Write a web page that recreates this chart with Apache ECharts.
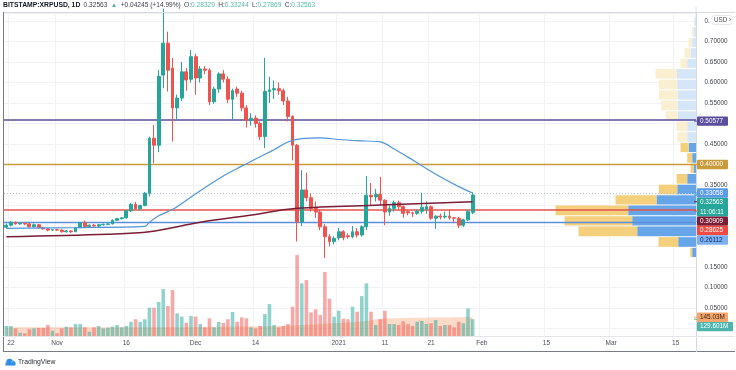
<!DOCTYPE html>
<html><head><meta charset="utf-8">
<script src="https://cdn.jsdelivr.net/npm/echarts@6/dist/echarts.min.js"></script>
<style>html,body{margin:0;padding:0;background:#fff}#c{width:736px;height:370px}</style>
</head><body><div id="c"></div><script>
// ---------- categories ----------
const startDay = Date.UTC(2020, 9, 21);
const categories = [];
for (let i = 0; i < 150; i++) categories.push(new Date(startDay + i * 86400000).toISOString().slice(0, 10));

const tickDates = ['2020-10-22','2020-11-01','2020-11-16','2020-12-01','2020-12-14','2021-01-01','2021-01-11','2021-01-21','2021-02-01','2021-02-15','2021-03-01','2021-03-15'];
const tickTexts = ['22','Nov','16','Dec','14','2021','11','21','Feb','15','Mar','15'];

// ---------- daily candles (Oct 21 2020 .. Jan 30 2021) ----------
const opens = [0.247,0.252,0.259,0.255,0.257,0.255,0.248,0.253,0.246,0.243,0.240,0.241,0.240,0.236,0.238,0.236,0.246,0.258,0.249,0.252,0.250,0.253,0.254,0.255,0.264,0.268,0.270,0.287,0.303,0.292,0.300,0.330,0.464,0.447,0.618,0.696,0.635,0.538,0.562,0.626,0.608,0.663,0.611,0.633,0.630,0.553,0.584,0.621,0.608,0.559,0.584,0.574,0.538,0.508,0.513,0.500,0.468,0.578,0.582,0.585,0.580,0.555,0.517,0.447,0.260,0.338,0.319,0.293,0.284,0.248,0.224,0.212,0.221,0.236,0.226,0.224,0.236,0.228,0.248,0.325,0.321,0.327,0.313,0.284,0.293,0.307,0.297,0.285,0.282,0.281,0.286,0.291,0.297,0.269,0.274,0.272,0.274,0.270,0.269,0.252,0.265,0.28329];
const highs = [0.256,0.262,0.261,0.259,0.259,0.257,0.256,0.255,0.248,0.245,0.243,0.243,0.242,0.240,0.240,0.247,0.260,0.263,0.254,0.255,0.255,0.256,0.257,0.266,0.270,0.272,0.289,0.306,0.309,0.302,0.333,0.468,0.496,0.630,0.780,0.724,0.660,0.570,0.650,0.635,0.679,0.670,0.640,0.640,0.635,0.590,0.625,0.630,0.615,0.585,0.590,0.580,0.545,0.525,0.520,0.505,0.660,0.614,0.605,0.600,0.585,0.565,0.520,0.450,0.386,0.380,0.330,0.310,0.290,0.255,0.230,0.225,0.245,0.240,0.232,0.250,0.245,0.252,0.372,0.355,0.340,0.370,0.315,0.300,0.312,0.312,0.300,0.290,0.285,0.290,0.331,0.310,0.300,0.276,0.280,0.285,0.290,0.272,0.272,0.268,0.290,0.33244];
const lows = [0.244,0.249,0.253,0.253,0.252,0.246,0.246,0.243,0.241,0.237,0.238,0.238,0.234,0.234,0.233,0.235,0.245,0.246,0.247,0.249,0.248,0.251,0.252,0.254,0.262,0.266,0.268,0.284,0.289,0.288,0.298,0.322,0.403,0.430,0.586,0.578,0.456,0.508,0.555,0.580,0.600,0.570,0.600,0.620,0.545,0.548,0.575,0.600,0.550,0.508,0.565,0.530,0.490,0.495,0.490,0.460,0.440,0.550,0.560,0.570,0.545,0.505,0.410,0.212,0.250,0.310,0.285,0.270,0.240,0.172,0.200,0.205,0.215,0.215,0.219,0.220,0.222,0.224,0.240,0.300,0.310,0.300,0.252,0.275,0.285,0.290,0.270,0.276,0.272,0.277,0.280,0.280,0.265,0.243,0.266,0.268,0.265,0.258,0.245,0.248,0.262,0.27869];
const closes = [0.252,0.259,0.255,0.257,0.255,0.248,0.253,0.246,0.243,0.240,0.241,0.240,0.236,0.238,0.236,0.246,0.258,0.249,0.252,0.250,0.253,0.254,0.255,0.264,0.268,0.270,0.287,0.303,0.292,0.300,0.330,0.464,0.447,0.615,0.696,0.630,0.538,0.562,0.626,0.606,0.663,0.611,0.633,0.630,0.553,0.584,0.621,0.608,0.559,0.580,0.574,0.538,0.508,0.513,0.500,0.468,0.578,0.582,0.585,0.580,0.555,0.517,0.447,0.260,0.338,0.319,0.293,0.284,0.248,0.224,0.212,0.220,0.236,0.222,0.224,0.236,0.228,0.248,0.325,0.321,0.327,0.313,0.284,0.293,0.307,0.297,0.281,0.282,0.281,0.286,0.296,0.297,0.269,0.274,0.272,0.274,0.270,0.269,0.252,0.265,0.285,0.32563];
// volume, millions
const volumes = [77,77,59,25,21,52,59,62,62,85,41,21,59,72,67,92,92,67,33,67,77,59,64,72,85,67,77,110,129,110,129,218,218,262,362,231,354,175,149,102,154,149,92,67,136,67,108,102,129,185,110,144,136,67,59,77,169,246,85,67,77,92,226,624,406,431,182,206,162,493,287,149,195,133,129,226,187,308,406,187,85,129,195,92,92,85,113,92,77,110,116,92,98,123,77,85,85,67,110,98,213,129.601];

// ---------- indicator readings ----------
const ma50Dates = ['2020-10-21','2020-11-05','2020-11-20','2020-11-21','2020-11-23','2020-11-25','2020-11-27','2020-12-02','2020-12-07','2020-12-11','2020-12-15','2020-12-18','2020-12-21','2020-12-24','2020-12-28','2021-01-01','2021-01-05','2021-01-10','2021-01-13','2021-01-16','2021-01-19','2021-01-23','2021-01-27','2021-01-30'];
const ma50Values = [0.2444,0.246,0.249,0.259,0.275,0.285,0.297,0.336,0.372,0.396,0.419,0.436,0.455,0.463,0.465,0.461,0.458,0.455,0.438,0.418,0.397,0.370,0.346,0.33058];
const ma200Dates = ['2020-10-21','2020-11-12','2020-11-21','2020-12-02','2020-12-12','2020-12-23','2021-01-10','2021-01-30'];
const ma200Values = [0.224,0.230,0.236,0.259,0.275,0.293,0.301,0.30909];
const volMaDates = ['2020-10-21','2020-11-20','2020-12-10','2020-12-22','2020-12-30','2021-01-07','2021-01-11','2021-01-30'];
const volMaValues = [67,67,73,81,96,116,135,145.03];

// ---------- horizontal levels ----------
const levelValues = [0.50577, 0.40000, 0.28625, 0.26112];
const lastPrice = 0.32563;

// ---------- visible-range volume profile ----------
const profileEdges = [0.173,0.198,0.224,0.250,0.275,0.301,0.326,0.352,0.378,0.403,0.429,0.454,0.480,0.506,0.531,0.557,0.582,0.608,0.634,0.659,0.685,0.710,0.736,0.762,0.787];
const profileUp   = [4.3,18.3,59.3,64.3,68.3,40,19.3,9.3,3,4.3,7.7,9.3,9.3,19,19,19,19.3,20,9.3,6,4.3,3,2,1];
const profileDown = [2,19.7,58.7,67.7,72.7,41,18.4,10.7,3,5,8.3,10,10.7,12,16.3,18.7,18.3,21,6.7,6,3.7,1.5,0,0];
const valueAreaHigh = 0.454;

// ---------- build ----------
const candleData = opens.map((o, i) => [o, closes[i], lows[i], highs[i]]);
const volData = volumes.map((v, i) => ({value: v, itemStyle: {color: closes[i] >= opens[i] ? 'rgba(38,166,154,0.5)' : 'rgba(239,83,80,0.5)'}}));
const profileData = profileUp.map((u, i) => [profileEdges[i], profileEdges[i + 1], u, profileDown[i]]);
const tickSet = new Set(tickDates);
const tickFmt = v => { const k = tickDates.indexOf(v); return k >= 0 ? tickTexts[k] : ''; };
const FONT = 'Liberation Sans, Arial, sans-serif';
const showLabels = [0.05, 0.10, 0.15, 0.35, 0.45, 0.55, 0.60, 0.65, 0.70, 0.75];

const chart = echarts.init(document.getElementById('c'), null, {renderer: 'canvas'});
const option = {
  animation: false,
  backgroundColor: '#fff',
  textStyle: {fontFamily: FONT},
  grid: [
    {left: 4, right: 39.5, top: 13, bottom: 41.5},
    {left: 4, right: 39.5, top: 13, bottom: 34},
    {left: 527, right: 39.5, top: 13, bottom: 41.5}
  ],
  xAxis: [
    {type: 'category', gridIndex: 0, data: categories, show: false, boundaryGap: true},
    {type: 'category', gridIndex: 1, data: categories, boundaryGap: true,
      axisLine: {show: false}, axisTick: {show: false},
      axisLabel: {interval: (i, v) => tickSet.has(v), formatter: tickFmt, fontSize: 6.5, color: '#4a4e59', margin: 4, fontFamily: FONT},
      splitLine: {show: true, interval: (i, v) => tickSet.has(v), lineStyle: {color: '#f0f2f6', width: 1}}},
    {type: 'value', gridIndex: 2, inverse: true, min: 0, max: 169.5, show: false}
  ],
  yAxis: [
    {type: 'value', gridIndex: 0, position: 'right', min: 0, max: 0.7695, interval: 0.05,
      axisLine: {show: false}, axisTick: {show: false},
      axisLabel: {fontSize: 6.4, color: '#3f434d', margin: 8, fontFamily: FONT, showMaxLabel: true,
        formatter: v => { if (!showLabels.some(s => Math.abs(s - v) < 1e-6)) return ''; return Math.abs(v - 0.75) < 1e-6 ? '0.' : v.toFixed(5); }},
      splitLine: {lineStyle: {color: '#f0f2f6', width: 1}}},
    {type: 'value', gridIndex: 1, min: 0, max: 2490, show: false},
    {type: 'value', gridIndex: 2, min: 0, max: 0.7695, show: false}
  ],
  series: [
    {type: 'custom', name: 'profile', xAxisIndex: 2, yAxisIndex: 2, z: 1, silent: true, data: profileData,
      renderItem: (params, api) => {
        const lo = api.value(0), hi = api.value(1), up = api.value(2), dn = api.value(3);
        const base = api.coord([0, lo]), top = api.coord([0, hi]);
        const xu = api.coord([up, lo])[0], xd = api.coord([up + dn, lo])[0];
        const solid = hi <= valueAreaHigh + 1e-6;
        const y = top[1] + 0.5, h = Math.max(0.5, base[1] - top[1] - 1);
        return {type: 'group', children: [
          {type: 'rect', shape: {x: xu, y: y, width: base[0] - xu, height: h}, style: {fill: solid ? '#66a6e8' : '#d4e6f8'}},
          {type: 'rect', shape: {x: xd, y: y, width: xu - xd, height: h}, style: {fill: solid ? '#f4d07c' : '#fbefd2'}}
        ]};
      }},
    {type: 'line', name: 'volMA', xAxisIndex: 1, yAxisIndex: 1, z: 2, data: volMaDates.map((d, i) => [d, volMaValues[i]]),
      smooth: 0.4, showSymbol: false, lineStyle: {width: 0}, areaStyle: {color: 'rgba(245,150,95,0.5)'}},
    {type: 'bar', name: 'volume', xAxisIndex: 1, yAxisIndex: 1, z: 3, data: volData, barWidth: '78%'},
    {type: 'candlestick', name: 'XRPUSD', xAxisIndex: 0, yAxisIndex: 0, z: 5, data: candleData, barWidth: '72%',
      itemStyle: {color: '#26a69a', color0: '#ef5350', borderColor: '#26a69a', borderColor0: '#ef5350', borderWidth: 1},
      markLine: {silent: true, symbol: 'none', label: {show: false}, animation: false, z: 4,
        data: [
          {yAxis: lastPrice, lineStyle: {color: '#b9c2c8', type: [1, 2], width: 1}},
          {yAxis: levelValues[0], lineStyle: {color: '#5a4d9c', type: 'solid', width: 1.6}},
          {yAxis: levelValues[1], lineStyle: {color: '#c99a3a', type: 'solid', width: 1.3}},
          {yAxis: levelValues[2], lineStyle: {color: '#e5534b', type: 'solid', width: 1.6}},
          {yAxis: levelValues[3], lineStyle: {color: '#5b8fdc', type: 'solid', width: 1.3}}
        ]}},
    {type: 'line', name: 'MA50', xAxisIndex: 0, yAxisIndex: 0, z: 6, data: ma50Dates.map((d, i) => [d, ma50Values[i]]),
      smooth: 0.35, showSymbol: false, lineStyle: {color: '#4f95d8', width: 1.2}},
    {type: 'line', name: 'MA200', xAxisIndex: 0, yAxisIndex: 0, z: 6, data: ma200Dates.map((d, i) => [d, ma200Values[i]]),
      smooth: 0.35, showSymbol: false, lineStyle: {color: '#7a1d35', width: 1.5}}
  ]
};
chart.setOption(option);

// ---------- right-scale badges, laid out like the platform does ----------
const priceBadges = [
  {v: levelValues[0], text: '0.50577', bg: '#5a4d9c', fg: '#fff'},
  {v: levelValues[1], text: '0.40000', bg: '#c99a3a', fg: '#fff'},
  {v: ma50Values[ma50Values.length - 1], text: '0.33058', bg: '#5b9be6', fg: '#fff'},
  {v: lastPrice, text: '0.32563', bg: '#26a69a', fg: '#fff', sub: '11:06:11'},
  {v: ma200Values[ma200Values.length - 1], text: '0.30909', bg: '#7a1d35', fg: '#fff'},
  {v: levelValues[2], text: '0.28625', bg: '#ef4b42', fg: '#fff'},
  {v: levelValues[3], text: '0.26112', bg: '#7cb0f0', fg: '#17285e'}
];
const volBadges = [
  {v: volMaValues[volMaValues.length - 1], text: '145.03M', bg: '#f5a66c', fg: '#3b2410'},
  {v: volumes[volumes.length - 1], text: '129.601M', bg: '#4db6ac', fg: '#fff'}
];
const H = 9.4;
const graphics = [];
function layout(list, axis) {
  let prevBottom = -1e9;
  list.forEach(b => {
    const yc = chart.convertToPixel(axis, b.v);
    const n = b.sub ? 2 : 1;
    let top = yc - H / 2;
    if (top < prevBottom) top = prevBottom;
    prevBottom = top + H * n;
    const w = b.text.length > 7 ? 36 : 31;
    graphics.push({type: 'line', shape: {x1: 694, y1: yc, x2: 697, y2: yc}, style: {stroke: b.bg, lineWidth: 1}, z: 50});
    graphics.push({type: 'rect', shape: {x: 697, y: top, width: w, height: H * n, r: 1}, style: {fill: b.bg}, z: 50});
    graphics.push({type: 'text', x: 700, y: top + H / 2, style: {text: b.text, fill: b.fg, font: '6.4px ' + FONT, textVerticalAlign: 'middle'}, z: 51});
    if (b.sub) graphics.push({type: 'text', x: 700, y: top + H * 1.5, style: {text: b.sub, fill: b.fg, font: '6.4px ' + FONT, textVerticalAlign: 'middle'}, z: 51});
  });
}
layout(priceBadges, {yAxisIndex: 0});
layout(volBadges, {yAxisIndex: 1});

// frame, scales, header, logo
graphics.push(
  {type: 'line', shape: {x1: 3, y1: 12.5, x2: 735, y2: 12.5}, style: {stroke: '#d5d8de', lineWidth: 1}, z: 40},
  {type: 'line', shape: {x1: 3.5, y1: 12, x2: 3.5, y2: 352}, style: {stroke: '#777b84', lineWidth: 1}, z: 40},
  {type: 'line', shape: {x1: 3, y1: 351.5, x2: 735, y2: 351.5}, style: {stroke: '#777b84', lineWidth: 1}, z: 40},
  {type: 'line', shape: {x1: 696.5, y1: 12, x2: 696.5, y2: 352}, style: {stroke: '#d5d8de', lineWidth: 1}, z: 40},
  {type: 'line', shape: {x1: 3, y1: 336.5, x2: 735, y2: 336.5}, style: {stroke: '#e3e5ea', lineWidth: 1}, z: 40},
  {type: 'rect', shape: {x: 712, y: 15.5, width: 20, height: 9, r: 2}, style: {fill: '#fff', stroke: '#d5d8de', lineWidth: 0.6}, z: 52},
  {type: 'text', x: 714, y: 20, style: {text: 'USD ›', fill: '#4a4e59', font: '6.3px ' + FONT, textVerticalAlign: 'middle'}, z: 53},
  {type: 'text', x: 3, y: 5.5, z: 60, style: {
    text: '{b|BITSTAMP:XRPUSD, 1D} {d|0.32563} {g|▲} {d|+0.04245 (+14.99%)} {d|O:}{g|0.28329} {d|H:}{g|0.33244} {d|L:}{g|0.27869} {d|C:}{g|0.32563}',
    textVerticalAlign: 'middle',
    rich: {b: {fontWeight: 'bold', fontSize: 6.8, fill: '#131722', fontFamily: FONT},
           d: {fontSize: 6.6, fill: '#3a3e48', fontFamily: FONT},
           g: {fontSize: 6.6, fill: '#53b9a6', fontFamily: FONT}}}},
  {type: 'circle', shape: {cx: 9.5, cy: 362, r: 3.2}, style: {fill: '#2f8ee8'}, z: 60},
  {type: 'circle', shape: {cx: 13, cy: 363, r: 2.4}, style: {fill: '#56a8f0'}, z: 60},
  {type: 'rect', shape: {x: 5.5, y: 362.5, width: 10, height: 3}, style: {fill: '#2f8ee8'}, z: 60},
  {type: 'text', x: 18, y: 362.5, style: {text: 'TradingView', fill: '#2a2e39', font: '6.8px ' + FONT, textVerticalAlign: 'middle'}, z: 60}
);
chart.setOption({graphic: graphics});
</script></body></html>
